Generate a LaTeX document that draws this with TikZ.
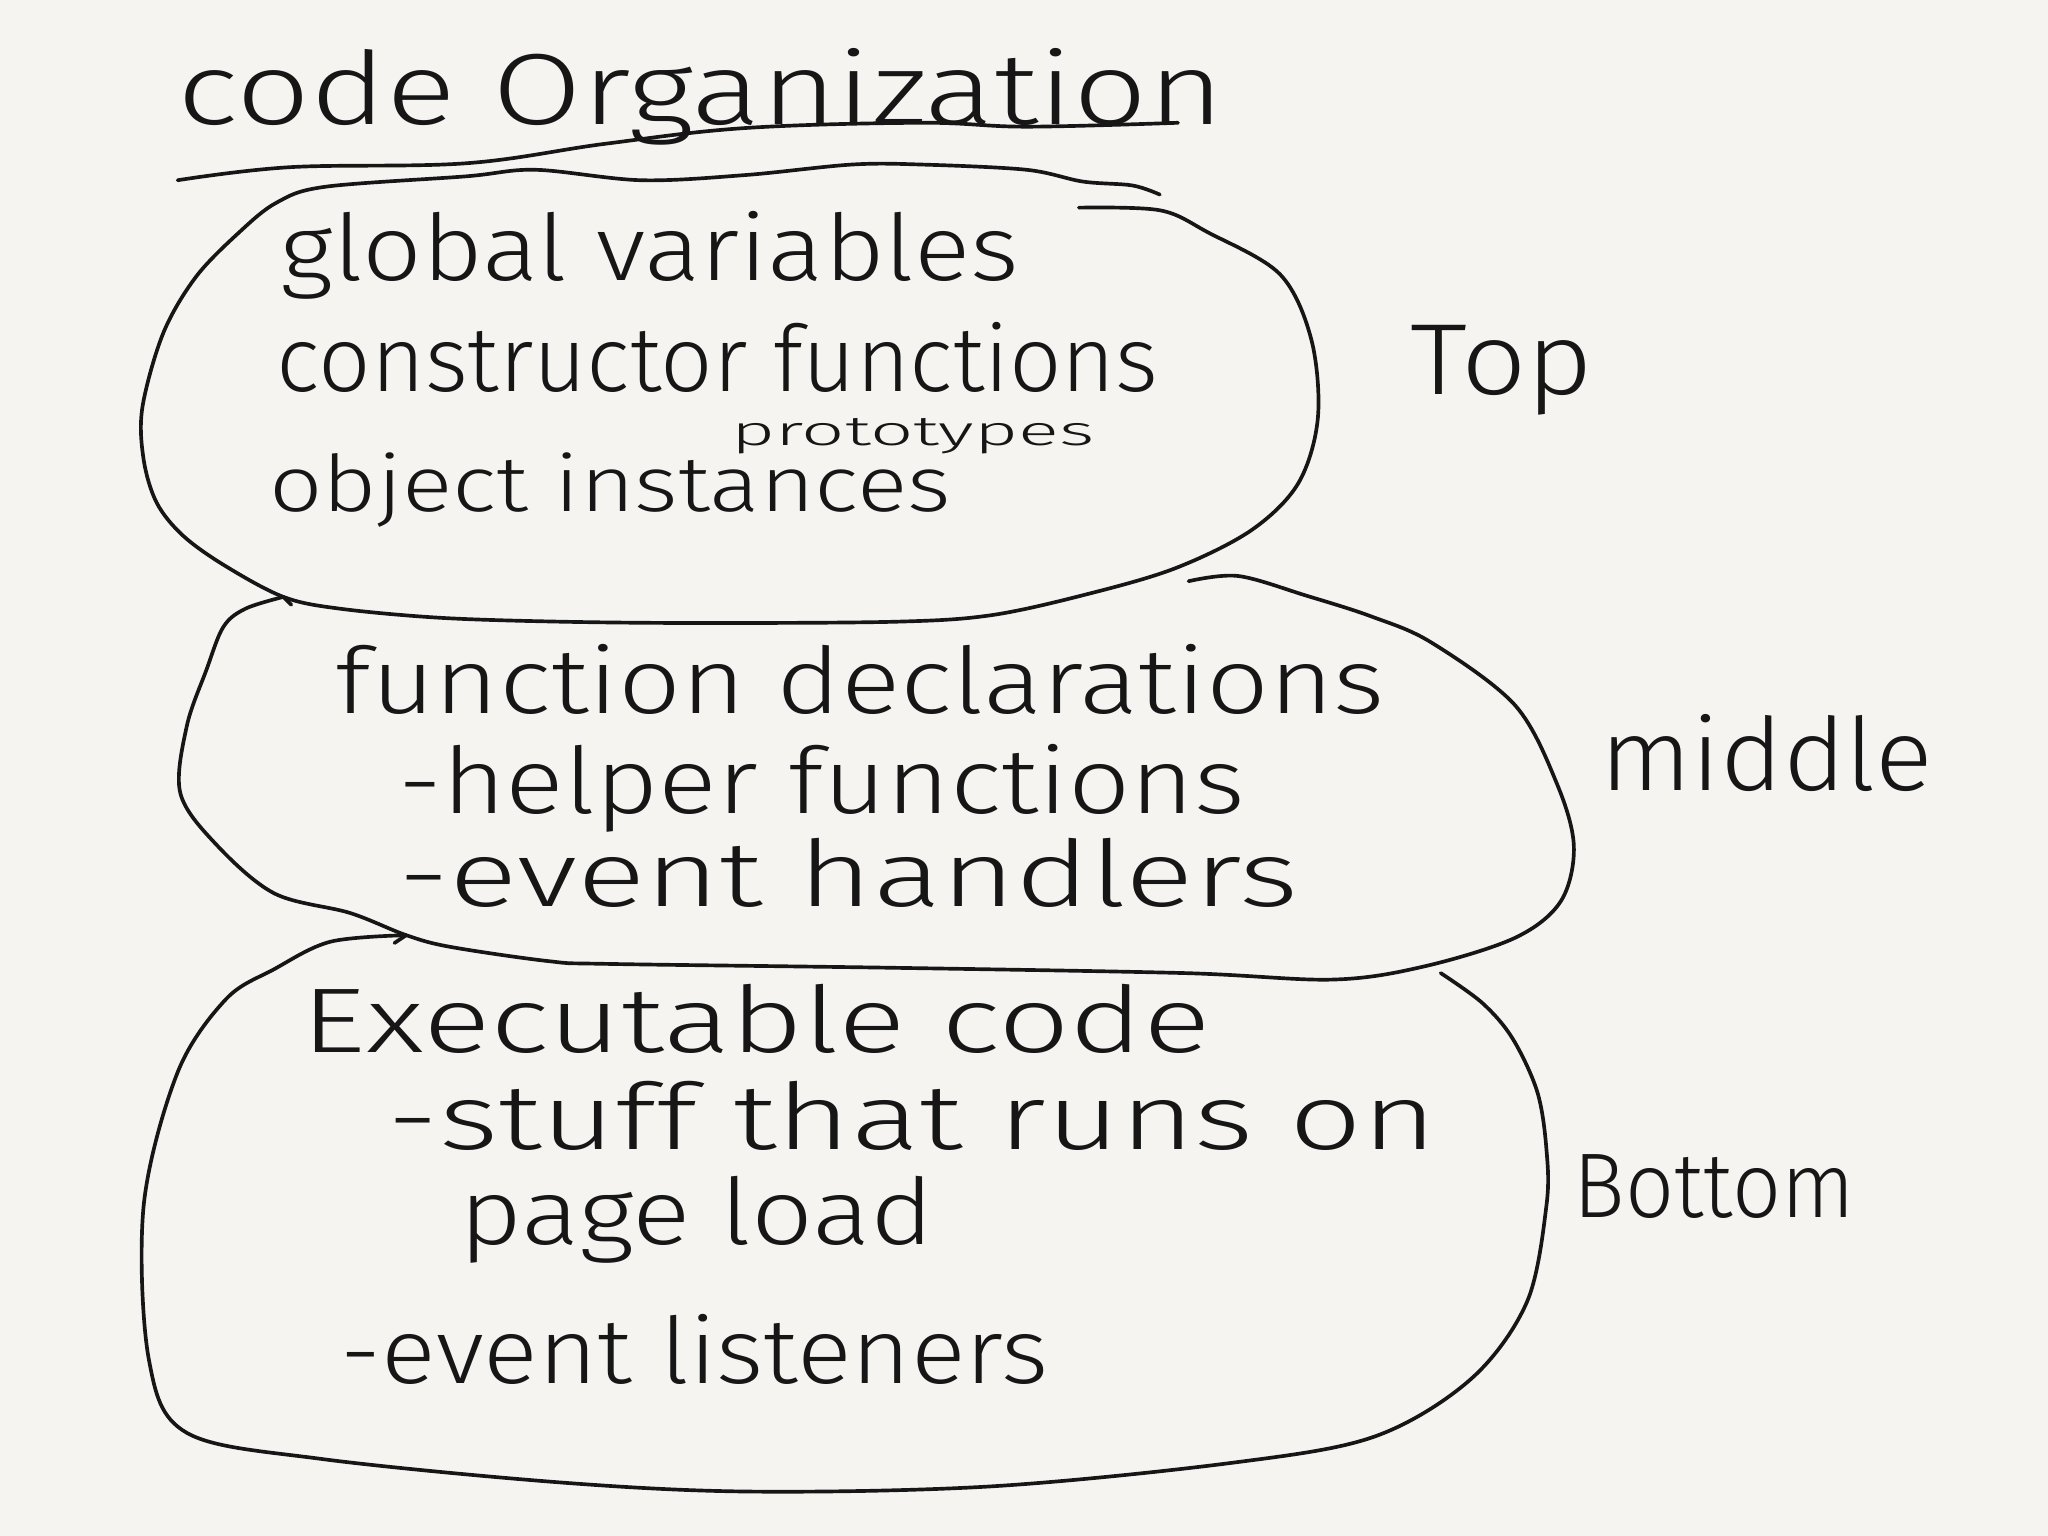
\documentclass[tikz,border=0pt]{standalone}
\usepackage{fontspec}
\setmainfont{Fira Sans}[UprightFont=* Light]
\usepackage{graphicx}
\newlength\pxu
\setlength\pxu{0.01cm}
\newcommand{\hw}[3]{\resizebox{#1\pxu}{\height}{\fontsize{#2}{#2}\selectfont #3}}
\definecolor{paper}{RGB}{245,244,240}
\definecolor{ink}{RGB}{22,22,22}
\tikzset{
  stroke/.style={draw=ink, line width=0.8pt, line cap=round, line join=round},
  lbl/.style={anchor=base west, inner sep=0pt, outer sep=0pt, text=ink}
}
\begin{document}
\begin{tikzpicture}[x=0.01cm,y=-0.01cm]
\fill[paper] (0,0) rectangle (1568,1176);
\useasboundingbox (0,0) rectangle (1568,1176);

% title and underline
\node[lbl] (title) at (136,95) {\hw{801}{22}{code Organization}};
\draw[stroke] plot[smooth, tension=0.6] coordinates {(136,138) (222,128) (357,125) (464,110) (571,98) (706,94) (786,97) (902,94)};

% top blob
\draw[stroke] plot[smooth, tension=0.55] coordinates {
 (888,149) (867,142) (829,139) (786,130) (706,126) (652,126) (571,134) (491,138)
 (410,130) (357,135) (249,143) (212,155) (183,178) (150,212) (125,255) (109,312)
 (110,352) (120,385) (140,410) (172,433) (217,457) (260,466) (337,473)
 (430,476) (539,477) (686,476) (759,471) (832,455) (900,435) (958,406) (994,370)
 (1009,320) (1004,260) (980,210) (925,178) (888,161) (826,159)};

% middle blob
\draw[stroke] plot[smooth, tension=0.55] coordinates {
 (910,445) (948,441) (1000,456) (1050,472) (1096,492) (1160,540) (1192,600)
 (1205,648) (1195,690) (1160,718) (1090,740) (1020,750) (906,745) (686,741)
 (466,738) (421,736) (345,725) (311,716) (268,699) (210,684) (165,646) (138,607)
 (143,556) (158,513) (171,480) (188,466) (217,457)};
\draw[stroke] (217,457) -- (223,463);

% bottom blob
\draw[stroke] plot[smooth, tension=0.55] coordinates {
 (1103,745) (1135,768) (1158,795) (1177,836) (1184,880) (1184,923) (1169,997)
 (1126,1056) (1052,1100) (943,1120) (759,1138) (576,1142) (429,1135) (246,1117)
 (143,1097) (114,1041) (110,923) (136,821) (173,765) (210,742) (253,721) (311,716)};
\draw[stroke] (311,716) -- (302,722);

% texts
\node[lbl] (gv) at (215,215) {\hw{565}{20}{global variables}};
\node[lbl] (cf) at (212,300) {\hw{675}{20}{constructor functions}};
\node[lbl] (proto) at (560,341) {\hw{278}{9}{prototypes}};
\node[lbl] (oi) at (206,392) {\hw{522}{17}{object instances}};
\node[lbl] (top) at (1080,302) {\hw{140}{22}{Top}};

\node[lbl] (fd) at (257,546) {\hw{803}{20}{function declarations}};
\node[lbl] (hf) at (305,623) {\hw{648}{20}{-helper functions}};
\node[lbl] (eh) at (305,694) {\hw{689}{20}{-event handlers}};
\node[lbl] (mid) at (1225,605) {\hw{255}{22}{middle}};

\node[lbl] (ec) at (231,806) {\hw{696}{20}{Executable code}};
\node[lbl] (stuff) at (297,880) {\hw{803}{20}{-stuff that runs on}};
\node[lbl] (pl) at (352,953) {\hw{363}{20}{page load}};
\node[lbl] (el) at (261,1059) {\hw{542}{20}{-event listeners}};
\node[lbl] (bot) at (1205,932) {\hw{215}{20}{Bottom}};
\end{tikzpicture}
\end{document}
